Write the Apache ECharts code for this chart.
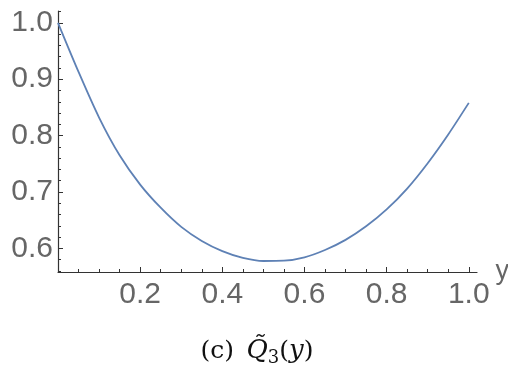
<!DOCTYPE html>
<html>
<head>
<meta charset="utf-8">
<script src="https://cdn.jsdelivr.net/npm/echarts@6/dist/echarts.min.js"></script>
<style>
  html, body { margin: 0; padding: 0; background: #fff; }
  #chart { width: 508px; height: 374px; }
</style>
</head>
<body>
<div id="chart"></div>
<script>
// curve values
var xs = [0, 0.05, 0.1, 0.15, 0.2, 0.25, 0.3, 0.35, 0.4, 0.45, 0.5,
          0.55, 0.6, 0.65, 0.7, 0.75, 0.8, 0.85, 0.9, 0.95, 1.0];
var q3 = [1.000, 0.913, 0.832, 0.765, 0.713, 0.672, 0.638, 0.613, 0.595, 0.583, 0.5775,
          0.578, 0.584, 0.597, 0.615, 0.639, 0.669, 0.706, 0.751, 0.802, 0.858];

var xLabels = [0.2, 0.4, 0.6, 0.8, 1.0];
var xMajor = [0, 0.2, 0.4, 0.6, 0.8, 1.0];
var xMinor = [0.05, 0.1, 0.15, 0.25, 0.3, 0.35, 0.45, 0.5, 0.55, 0.65, 0.7, 0.75, 0.85, 0.9, 0.95];
var yLabels = [0.6, 0.7, 0.8, 0.9, 1.0];
var yMinor = [0.56, 0.58, 0.62, 0.64, 0.66, 0.68, 0.72, 0.74, 0.76, 0.78,
              0.82, 0.84, 0.86, 0.88, 0.92, 0.94, 0.96, 0.98, 1.02];

var points = xs.map(function (x, i) { return [x, q3[i]]; });

var gray = '#666666';
var axisCol = '#333333';
var font = '"Liberation Sans", Arial, sans-serif';
var serif = '"DejaVu Serif", "Liberation Serif", serif';

// caption "(c) Q̃3(y)" built from pieces, laid out with measureText
var capPieces = [
  { t: '(c)', size: 25, style: 'normal', dy: 0 },
  { t: '\u2002', size: 25, style: 'normal', dy: 0 },
  { t: 'Q\u0303', size: 26, style: 'italic', dy: 0 },
  { t: '3', size: 18, style: 'normal', dy: 7 },
  { t: '(', size: 25, style: 'normal', dy: 0 },
  { t: 'y', size: 26, style: 'italic', dy: 0 },
  { t: ')', size: 25, style: 'normal', dy: 0 }
];
var ctx = document.createElement('canvas').getContext('2d');
var widths = capPieces.map(function (p) {
  ctx.font = p.style + ' ' + p.size + 'px ' + serif;
  return ctx.measureText(p.t).width;
});
var capTotal = widths.reduce(function (a, b) { return a + b; }, 0);
var capX = 257 - capTotal / 2;
var capY = 351;
var capEls = [];
capPieces.forEach(function (p, i) {
  capEls.push({
    type: 'text',
    x: capX,
    y: capY + p.dy,
    style: {
      text: p.t, fontSize: p.size, fontFamily: serif, fontStyle: p.style,
      fill: '#111', verticalAlign: 'middle', align: 'left'
    }
  });
  capX += widths[i];
});

var chart = echarts.init(document.getElementById('chart'));

chart.setOption({
  animation: false,
  backgroundColor: '#fff',
  grid: { left: 58, right: 31, top: 11, bottom: 102, outerBoundsMode: 'none' },
  xAxis: [{
    type: 'value', min: 0, max: 1.02,
    name: 'y', nameLocation: 'end', nameGap: 13,
    nameTextStyle: { color: gray, fontSize: 27, fontFamily: font, padding: [0, 0, 6, 0] },
    axisLine: { lineStyle: { color: axisCol, width: 1.2 } },
    axisTick: { inside: true, length: 5, customValues: xMajor, lineStyle: { color: axisCol } },
    axisLabel: { customValues: xLabels, color: gray, fontSize: 30, fontFamily: font, margin: 8,
      formatter: function (v) { return v.toFixed(1); } },
    splitLine: { show: false }
  }, {
    type: 'value', min: 0, max: 1.02, position: 'bottom',
    axisLine: { show: false },
    axisTick: { inside: true, length: 3, customValues: xMinor, lineStyle: { color: axisCol } },
    axisLabel: { show: false },
    splitLine: { show: false }
  }],
  yAxis: [{
    type: 'value', min: 0.558, max: 1.021,
    axisLine: { show: true, lineStyle: { color: axisCol, width: 1.2 } },
    axisTick: { show: true, inside: true, length: 5, customValues: yLabels, lineStyle: { color: axisCol } },
    axisLabel: { customValues: yLabels, color: gray, fontSize: 30, fontFamily: font, margin: 5,
      formatter: function (v) { return v.toFixed(1); } },
    splitLine: { show: false }
  }, {
    type: 'value', min: 0.558, max: 1.021, position: 'left', offset: 0,
    axisLine: { show: false },
    axisTick: { show: true, inside: true, length: 3, customValues: yMinor, lineStyle: { color: axisCol } },
    axisLabel: { show: false },
    splitLine: { show: false }
  }],
  series: [{
    type: 'line',
    data: points,
    xAxisIndex: 0,
    yAxisIndex: 0,
    smooth: 0.3,
    showSymbol: false,
    lineStyle: { color: '#5E81B5', width: 1.8 }
  }],
  graphic: capEls
});

window.addEventListener('resize', function () {
  chart.resize();
});
</script>
</body>
</html>
